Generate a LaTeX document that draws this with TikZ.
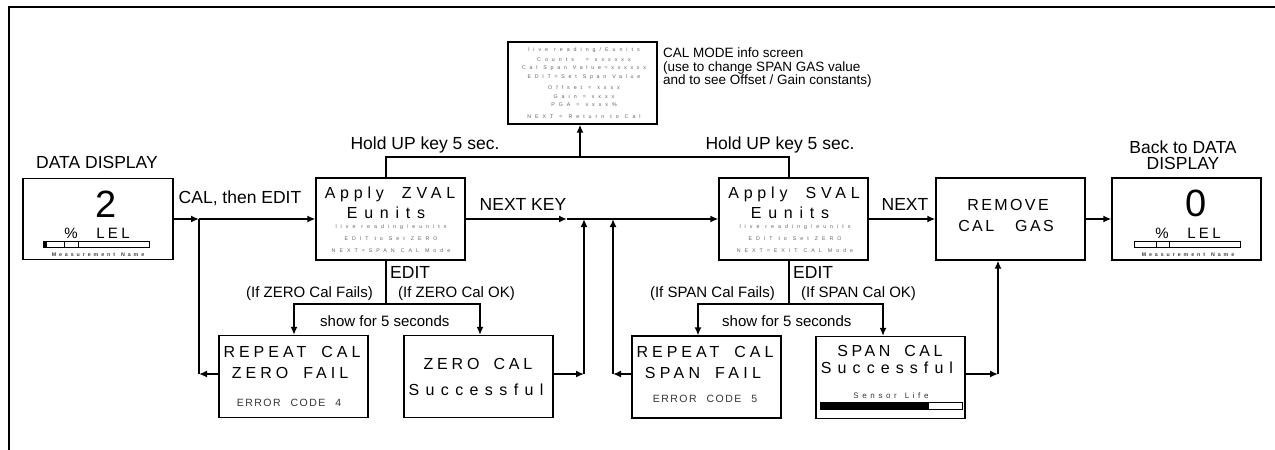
\documentclass[tikz,border=0pt]{standalone}
\usepackage{fontspec}
\setmainfont{Liberation Sans}
\usetikzlibrary{arrows.meta}
\newcommand\lsp[3][3pt]{{\addfontfeature{LetterSpace=#2}\spaceskip=#1\relax #3}}
\tikzset{
  box/.style={draw,line width=1.2pt,minimum width=149pt,minimum height=82pt,inner sep=0pt},
  conn/.style={line width=2pt,-{Latex[length=8pt,width=7pt]}},
  wire/.style={line width=2pt},
  frame/.style={line width=2pt},
  f38/.style={anchor=base,inner sep=0pt,yshift=-13.6pt,font=\fontsize{38}{38}\selectfont},
  f17/.style={anchor=base,inner sep=0pt,yshift=-6.3pt,font=\fontsize{17.5}{18}\selectfont},
  f16/.style={anchor=base,inner sep=0pt,yshift=-5.7pt,font=\fontsize{16}{16}\selectfont},
  f15/.style={anchor=base,inner sep=0pt,yshift=-5.4pt,font=\fontsize{15}{16}\selectfont},
  f13/.style={anchor=base,inner sep=0pt,yshift=-4.8pt,font=\fontsize{13.5}{14}\selectfont},
  f10/.style={anchor=base,inner sep=0pt,yshift=-3.75pt,font=\fontsize{10.5}{11}\selectfont,text=black!80},
  f8/.style={anchor=base,inner sep=0pt,yshift=-2.9pt,font=\fontsize{8}{8}\selectfont,text=black!80},
  f5/.style={anchor=base,inner sep=0pt,yshift=-1.9pt,font=\fontsize{5.3}{6}\selectfont,text=black!62},
  mn/.style={anchor=base,inner sep=0pt,yshift=-1.9pt,font=\fontsize{5.3}{6}\selectfont\bfseries,text=black!75},
  bar/.style={line width=0.9pt},
}
\begin{document}
\begin{tikzpicture}[x=1pt,y=-1pt]
\useasboundingbox (0,0) rectangle (1275,450);
% frame
\coordinate (f1) at (9,451); \coordinate (f2) at (9,7); \coordinate (f3) at (1276,7);
\draw[frame] (f1) -- (f2) -- (f3);

% boxes
\node[box,minimum width=150pt,minimum height=81pt] (data) at (98,219) {};
\node[box] (zval) at (390.5,219) {};
\node[box] (info) at (582.5,83) {};
\node[box] (sval) at (793.5,219) {};
\node[box] (zfail) at (293.5,376.5) {};
\node[box] (zok) at (478.5,376.5) {};
\node[box] (sfail) at (706.5,377) {};
\node[box] (sok) at (890.5,377.5) {};
\node[box] (remove) at (1010.5,219) {};
\node[box] (back) at (1186.5,219) {};

% DATA DISPLAY contents
\node[f17] (ddt) at (97,162) {DATA DISPLAY};
\node[f38] (dval) at (106,204) {2};
\node[f15] (dpct) at (71,233) {\%};
\node[f15] (dlel) at (113,233) {\lsp{22}{LEL}};
\draw[bar] (43,241) rectangle (149,247);
\fill (43,241) rectangle (46.5,247);
\draw[bar] (64,241) -- (64,247);
\draw[bar] (78,241) -- (78,247);
\node[mn] (dmn) at (98,255) {\lsp[6pt]{55}{Measurement Name}};

% Back to DATA DISPLAY contents
\node[f17] (bdt1) at (1183,147) {Back to DATA};
\node[f17] (bdt2) at (1183,163) {DISPLAY};
\node[f38] (bval) at (1196,203) {0};
\node[f15] (bpct) at (1162,233) {\%};
\node[f15] (blel) at (1204,233) {\lsp{22}{LEL}};
\draw[bar] (1134,241) rectangle (1240,247);
\draw[bar] (1156,241) -- (1156,247);
\draw[bar] (1169,241) -- (1169,247);
\node[mn] (bmn) at (1188,255) {\lsp[6pt]{55}{Measurement Name}};

% Apply ZVAL
\node[f16] (zv1) at (390,193) {\lsp[18pt]{30}{Apply ZVAL}};
\node[f16] (zv2) at (386,213) {\lsp{42}{Eunits}};
\node[f5] (zv3) at (391,227) {\lsp[6pt]{75}{live reading/eunits}};
\node[f5] (zv4) at (391,239) {\lsp[6pt]{75}{EDIT to Set ZERO}};
\node[f5] (zv5) at (391,251) {\lsp[6pt]{75}{NEXT=SPAN CAL Mode}};

% Apply SVAL
\node[f16] (sv1) at (794,193) {\lsp[18pt]{30}{Apply SVAL}};
\node[f16] (sv2) at (790,213) {\lsp{42}{Eunits}};
\node[f5] (sv3) at (795,227) {\lsp[6pt]{75}{live reading/eunits}};
\node[f5] (sv4) at (795,239) {\lsp[6pt]{75}{EDIT to Set ZERO}};
\node[f5] (sv5) at (795,251) {\lsp[6pt]{75}{NEXT=EXIT CAL Mode}};

% info screen
\node[f5] (i1) at (584,50) {\lsp[6pt]{75}{live reading/Eunits}};
\node[f5] (i2) at (584,60) {\lsp[6pt]{75}{Counts \ = xxxxxx}};
\node[f5] (i3) at (584,68) {\lsp[6pt]{70}{Cal Span Value=xxxxxx}};
\node[f5] (i4) at (584,77) {\lsp[6pt]{70}{EDIT=Set Span Value}};
\node[f5] (i5) at (584,88) {\lsp[6pt]{75}{Offset = xxxx}};
\node[f5] (i6) at (584,97) {\lsp[6pt]{75}{Gain = xxxx}};
\node[f5] (i7) at (584,105) {\lsp[6pt]{75}{PGA = xxxx\%}};
\node[f5] (i8) at (584,117) {\lsp[6pt]{75}{NEXT = Return to Cal}};
\node[f13,anchor=base west] (li1) at (663,53) {CAL MODE info screen};
\node[f13,anchor=base west] (li2) at (663,67) {(use to change SPAN GAS value};
\node[f13,anchor=base west] (li3) at (663,80) {and to see Offset / Gain constants)};

% ZERO fail
\node[f16] (zf1) at (292,352) {\lsp[15pt]{25}{REPEAT CAL}};
\node[f16] (zf2) at (290,373) {\lsp[15pt]{25}{ZERO FAIL}};
\node[f10] (zf3) at (289,403) {\lsp[10pt]{14}{ERROR CODE 4}};
% ZERO ok
\node[f16] (zo1) at (478,364) {\lsp[14pt]{24}{ZERO CAL}};
\node[f16] (zo2) at (476,390) {\lsp{40}{Successful}};
% SPAN fail
\node[f16] (sf1) at (705,352) {\lsp[15pt]{25}{REPEAT CAL}};
\node[f16] (sf2) at (703,373) {\lsp[15pt]{27}{SPAN FAIL}};
\node[f10] (sf3) at (705,399) {\lsp[10pt]{14}{ERROR CODE 5}};
% SPAN ok
\node[f16] (so1) at (890,351) {\lsp[14pt]{22}{SPAN CAL}};
\node[f16] (so2) at (887,368) {\lsp{38}{Successful}};
\node[f8] (so3) at (891,396) {\lsp[8pt]{45}{Sensor Life}};
\draw[bar] (820,402) rectangle (962,409);
\fill (820,402) rectangle (929,409);
% REMOVE
\node[f16] (rm1) at (1008,205) {\lsp{15}{REMOVE}};
\node[f16] (rm2) at (1006,226) {\lsp[21pt]{15}{CAL GAS}};

% labels
\node[f17] (lcal) at (240,197) {CAL, then EDIT};
\node[f17] (lhold1) at (425,143) {Hold UP key 5 sec.};
\node[f17] (lhold2) at (780,143) {Hold UP key 5 sec.};
\node[f17] (lnk) at (523,204) {NEXT KEY};
\node[f17] (lnext) at (905,204) {NEXT};
\node[f17,anchor=base west] (le1) at (390,272) {EDIT};
\node[f17,anchor=base west] (le2) at (793,272) {EDIT};
\node[f15,anchor=base east] (lzf) at (373,292) {(If ZERO Cal Fails)};
\node[f15,anchor=base west] (lzo) at (398,292) {(If ZERO Cal OK)};
\node[f15,anchor=base west] (lz5) at (320,321) {show for 5 seconds};
\node[f15,anchor=base east] (lsf) at (775,292) {(If SPAN Cal Fails)};
\node[f15,anchor=base west] (lso) at (801,292) {(If SPAN Cal OK)};
\node[f15,anchor=base west] (ls5) at (722,321) {show for 5 seconds};

% connectors
\coordinate (j1) at (199,219);
\coordinate (j1b) at (199,374);
\draw[conn] (data.east) -- (j1);
\draw[conn] (j1) -- (zval.west);
\draw[conn] (zfail.west |- j1b) -- (j1b);
\draw[wire] (j1b) -- (j1);

\coordinate (h1) at (386,157); \coordinate (h2) at (789,157); \coordinate (hm) at (580,157);
\draw[wire] (h1 |- zval.north) -- (h1) -- (h2) -- (h2 |- sval.north);
\draw[conn] (hm) -- (hm |- info.south);

\coordinate (j2) at (567,219);
\draw[conn] (zval.east) -- (j2);
\draw[conn] (j2) -- (sval.west);
\coordinate (j3) at (584,219); \coordinate (j3b) at (584,374);
\draw[conn] (zok.east |- j3b) -- (j3b);
\draw[conn] (j3b) -- (j3);
\coordinate (j4) at (613,219); \coordinate (j4b) at (613,374);
\draw[conn] (sfail.west |- j4b) -- (j4b);
\draw[conn] (j4b) -- (j4);

\draw[conn] (sval.east) -- (remove.west);
\draw[conn] (remove.east) -- (back.west);
\coordinate (j5b) at (998,374);
\draw[conn] (sok.east |- j5b) -- (j5b);
\draw[conn] (j5b) -- (j5b |- remove.south);

\coordinate (e1) at (386,304); \coordinate (e1l) at (294,304); \coordinate (e1r) at (480,304);
\draw[wire] (e1 |- zval.south) -- (e1);
\draw[conn] (e1) -- (e1l) -- (e1l |- zfail.north);
\draw[conn] (e1) -- (e1r) -- (e1r |- zok.north);
\coordinate (e2) at (789,304); \coordinate (e2l) at (698,304); \coordinate (e2r) at (883,304);
\draw[wire] (e2 |- sval.south) -- (e2);
\draw[conn] (e2) -- (e2l) -- (e2l |- sfail.north);
\draw[conn] (e2) -- (e2r) -- (e2r |- sok.north);
\end{tikzpicture}
\end{document}
